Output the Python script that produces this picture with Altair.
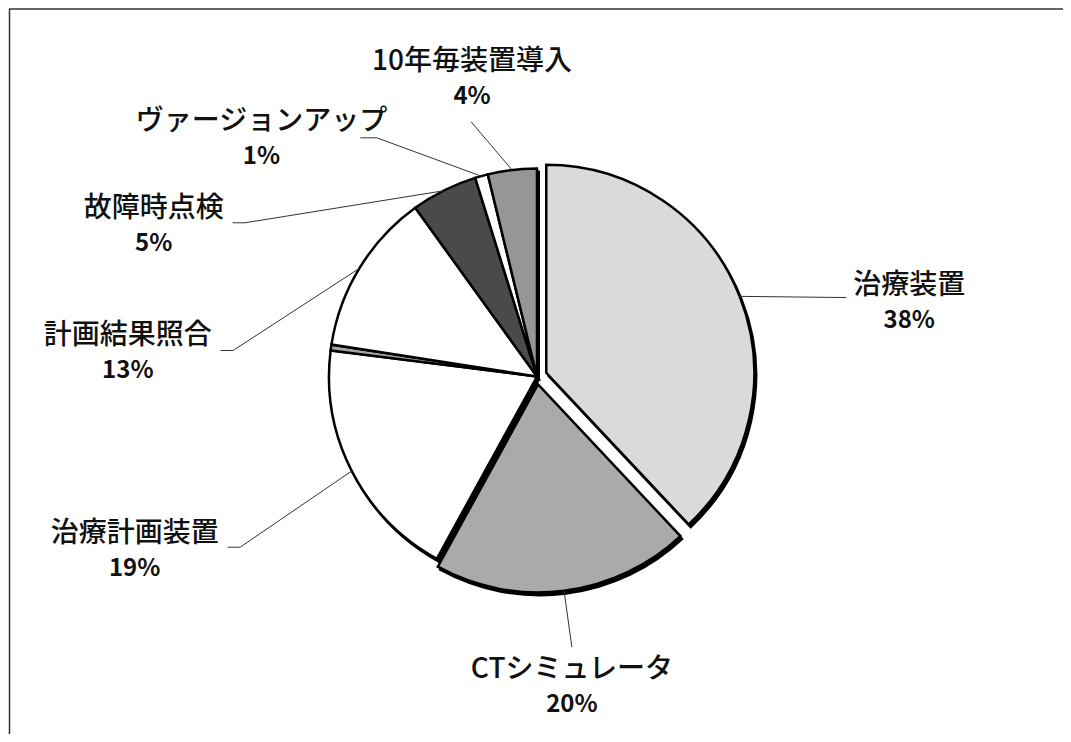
import math
import altair as alt
import pandas as pd

# ---------------- data ----------------
names = ["治療装置", "CTシミュレータ", "治療計画装置", "その他",
         "計画結果照合", "故障時点検", "ヴァージョンアップ", "10年毎装置導入"]
values = [38.0, 20.0, 19.0, 0.45, 12.6, 5.15, 1.0, 3.8]
show_label = [True, True, True, False, True, True, True, True]

# ---------------- style / layout ----------------
fills = ["#dadada", "#aaaaaa", "#ffffff", "#a4a4a4",
         "#ffffff", "#4a4a4a", "#ffffff", "#969696"]
explode_px = [10, 8, 0, 0, 0, 0, 0, 0]
# label placement, in pie-radius units relative to the pie centre (y downward)
label_end = {   # where the leader line meets the label
    "治療装置": (1.490, -0.380),
    "CTシミュレータ": (0.168, 1.303),
    "治療計画装置": (-1.490, 0.822),
    "計画結果照合": (-1.524, -0.125),
    "故障時点検": (-1.466, -0.740),
    "ヴァージョンアップ": (-0.851, -1.149),
    "10年毎装置導入": (-0.317, -1.226),
}
label_block = {  # centre of the two-line label
    "治療装置": (1.793, -0.353),
    "CTシミュレータ": (0.168, 1.495),
    "治療計画装置": (-1.938, 0.841),
    "計画結果照合": (-1.971, -0.111),
    "故障時点検": (-1.846, -0.726),
    "ヴァージョンアップ": (-1.327, -1.144),
    "10年毎装置導入": (-0.313, -1.433),
}
stub = {"治療計画装置": 0.06, "計画結果照合": 0.06, "故障時点検": 0.06,
        "ヴァージョンアップ": 0.08}

R = 208                 # pie radius in px
CX, CY = 537, 377       # pie centre on the page
W, H = 1055, 726
x_dom = [(8 - CX) / R, (8 + W - CX) / R]
y_dom = [(8 - CY) / R, (8 + H - CY) / R]
SHX, SHY = 2 / R, 3 / R
FONT = "Noto Sans CJK JP"

total = sum(values)
rows, lab_rows = [], []
acc = 0.0
for i, (n, v) in enumerate(zip(names, values)):
    t0 = acc / total * 2 * math.pi
    acc += v
    t1 = acc / total * 2 * math.pi
    m = (t0 + t1) / 2
    e = explode_px[i] / R
    ex, ey = e * math.sin(m), -e * math.cos(m)
    rows.append(dict(name=n, value=v, t0=t0, t1=t1, ex=ex, ey=ey,
                     sx=ex + SHX, sy=ey + SHY))
    if show_label[i]:
        endx, endy = label_end[n]
        bx, by = label_block[n]
        lab_rows.append(dict(
            name=n, pct=f"{int(v / total * 100 + 0.5)}%",
            edge_x=ex + math.sin(m), edge_y=ey - math.cos(m),
            elb_x=endx + stub.get(n, 0.0), elb_y=endy,
            end_x=endx, end_y=endy, bx=bx, by=by))

df = pd.DataFrame(rows)
lab = pd.DataFrame(lab_rows)

xs = alt.Scale(domain=x_dom, nice=False, zero=False)
ys = alt.Scale(domain=y_dom, nice=False, zero=False, reverse=True)

base = alt.Chart(df)

shadow = base.mark_arc(radius=R, color="#000000", stroke="#000000",
                       strokeWidth=2).encode(
    x=alt.X("sx:Q", scale=xs, axis=None),
    y=alt.Y("sy:Q", scale=ys, axis=None),
    theta=alt.Theta("t0:Q", scale=None, stack=None),
    theta2=alt.Theta2("t1:Q"),
)

pie = base.mark_arc(radius=R, stroke="#000000", strokeWidth=2.5,
                    strokeJoin="miter").encode(
    x=alt.X("ex:Q", scale=xs, axis=None),
    y=alt.Y("ey:Q", scale=ys, axis=None),
    theta=alt.Theta("t0:Q", scale=None, stack=None),
    theta2=alt.Theta2("t1:Q"),
    color=alt.Color("name:N", scale=alt.Scale(domain=names, range=fills),
                    legend=None),
)

lb = alt.Chart(lab)
lead1 = lb.mark_rule(color="#333333", strokeWidth=1).encode(
    x=alt.X("edge_x:Q", scale=xs, axis=None),
    y=alt.Y("edge_y:Q", scale=ys, axis=None),
    x2="elb_x:Q", y2="elb_y:Q",
)
lead2 = lb.mark_rule(color="#333333", strokeWidth=1).encode(
    x=alt.X("elb_x:Q", scale=xs, axis=None),
    y=alt.Y("elb_y:Q", scale=ys, axis=None),
    x2="end_x:Q", y2="end_y:Q",
)
name_txt = lb.mark_text(font=FONT, fontSize=28, fontWeight=500,
                        color="#111111", dy=-17).encode(
    x=alt.X("bx:Q", scale=xs, axis=None),
    y=alt.Y("by:Q", scale=ys, axis=None),
    text="name:N",
)
pct_txt = lb.mark_text(font=FONT, fontSize=24, fontWeight="bold",
                       color="#111111", dy=18).encode(
    x=alt.X("bx:Q", scale=xs, axis=None),
    y=alt.Y("by:Q", scale=ys, axis=None),
    text="pct:N",
)

frame_src = alt.Chart(pd.DataFrame({"k": [0]}))
top_line = frame_src.mark_rule(color="#333333", strokeWidth=1.5).encode(
    x=alt.value(0), x2=alt.value(W), y=alt.value(1))
left_line = frame_src.mark_rule(color="#333333", strokeWidth=1.5).encode(
    x=alt.value(0.5), y=alt.value(1), y2=alt.value(H))

chart = alt.layer(shadow, pie, lead1, lead2, name_txt, pct_txt,
                  top_line, left_line).properties(
    width=W, height=H,
    autosize=alt.AutoSizeParams(type="fit", contains="padding"),
    padding=0,
).configure_view(stroke=None)

chart.save("out.html", embed_options={"renderer": "svg", "actions": False})
